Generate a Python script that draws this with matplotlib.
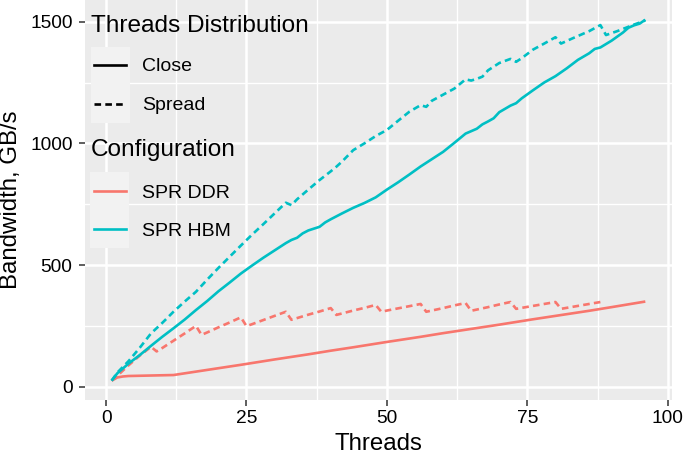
import matplotlib
matplotlib.use("Agg")
import matplotlib.pyplot as plt
from matplotlib.ticker import MultipleLocator
from matplotlib.patches import Rectangle
from matplotlib.lines import Line2D

plt.rcParams['font.family'] = ['Liberation Sans', 'DejaVu Sans']

# values (threads, GB/s)
hbm_close_t = [1, 2, 4, 6, 8, 10, 12, 14, 16, 18, 20, 22, 24, 26, 28, 30, 32, 33, 34, 35,
               36, 38, 39, 40, 42, 44, 46, 48, 50, 52, 54, 56, 58, 60, 62, 64, 65, 66, 67, 68,
               69, 70, 72, 73, 74, 76, 78, 80, 82, 84, 86, 87, 88, 90, 92, 93, 94, 95, 96]
hbm_close_bw = [25, 55, 95, 130, 168, 205, 240, 276, 315, 352, 392, 428, 465, 498, 530, 560, 590, 603, 612, 630,
                642, 657, 675, 688, 712, 735, 755, 778, 810, 840, 872, 905, 935, 965, 1002, 1040, 1050, 1060, 1078, 1090,
                1103, 1128, 1155, 1165, 1185, 1218, 1250, 1276, 1308, 1343, 1370, 1388, 1394, 1422, 1455, 1475, 1485, 1492, 1508]

hbm_spread_t = [1, 2, 4, 6, 8, 10, 12, 14, 16, 18, 20, 22, 24, 26, 28, 30, 32, 33, 34, 36,
                38, 40, 41, 42, 44, 46, 48, 50, 52, 54, 56, 57, 58, 60, 62, 64, 65, 66, 67, 68,
                70, 72, 73, 74, 76, 78, 80, 81, 83, 86, 88, 89, 91, 92, 94, 96]
hbm_spread_bw = [25, 58, 105, 160, 219, 262, 308, 350, 390, 440, 488, 534, 580, 625, 668, 712, 756, 746, 770, 810,
                 849, 885, 904, 925, 972, 1000, 1030, 1055, 1093, 1130, 1157, 1150, 1175, 1200, 1225, 1263, 1258, 1265, 1274, 1300,
                 1330, 1347, 1335, 1350, 1385, 1410, 1436, 1410, 1431, 1461, 1486, 1445, 1461, 1470, 1488, 1505]

ddr_close_t = [1, 2, 3, 4, 6, 8, 10, 12, 16, 20, 24, 30, 36, 40, 44, 50, 56, 60, 66, 70, 76, 80, 86, 90, 96]
ddr_close_bw = [25, 38, 42, 44, 45, 46, 47, 48, 62, 76, 90, 112, 133, 148, 162, 184, 205, 220, 241, 255, 277, 291, 312, 327, 350]

ddr_spread_t = [1, 2, 4, 6, 8, 9, 10, 12, 14, 16, 17, 18, 20, 22, 24, 25, 26, 28, 30, 32,
                33, 34, 36, 38, 40, 41, 42, 44, 46, 48, 49, 50, 52, 54, 56, 57, 58, 60, 62, 64,
                65, 66, 68, 70, 72, 73, 74, 76, 78, 80, 81, 82, 84, 86, 88]
ddr_spread_bw = [25, 45, 88, 128, 164, 145, 159, 189, 219, 250, 213, 223, 244, 264, 285, 249, 257, 274, 291, 308,
                 275, 282, 296, 309, 323, 295, 301, 313, 324, 336, 308, 313, 322, 331, 340, 308, 313, 323, 334, 344,
                 312, 317, 327, 338, 348, 320, 324, 332, 340, 348, 320, 324, 332, 340, 348]

red = '#F8766D'
cyan = '#00BFC4'
lw = 1.9
dash = (0, (2.5, 1.6))

W, H = 685, 455
fig = plt.figure(figsize=(W / 100, H / 100), dpi=100)
ax = fig.add_axes([85 / W, 55 / H, 587 / W, 400 / H])
ax.set_facecolor('#EBEBEB')

ax.plot(ddr_close_t, ddr_close_bw, color=red, lw=lw, solid_capstyle='butt')
ax.plot(ddr_spread_t, ddr_spread_bw, color=red, lw=lw, linestyle=dash)
ax.plot(hbm_close_t, hbm_close_bw, color=cyan, lw=lw, solid_capstyle='butt')
ax.plot(hbm_spread_t, hbm_spread_bw, color=cyan, lw=lw, linestyle=dash)

ax.set_xlim(-3.75, 100.75)
ax.set_ylim(-54.6, 1589)
ax.xaxis.set_major_locator(MultipleLocator(25))
ax.xaxis.set_minor_locator(MultipleLocator(12.5))
ax.yaxis.set_major_locator(MultipleLocator(500))
ax.yaxis.set_minor_locator(MultipleLocator(250))
ax.grid(which='major', color='white', lw=1.8)
ax.grid(which='minor', color='white', lw=1.0)
ax.set_axisbelow(True)
for s in ax.spines.values():
    s.set_visible(False)
ax.tick_params(which='major', length=4.5, width=1.1, color='#333333',
               labelsize=13.8, labelcolor='black', pad=3)
ax.tick_params(axis='y', which='major', pad=4.5)
ax.tick_params(which='minor', length=0)

fig.text(378.5 / W, 1 - 450.5 / H, 'Threads', fontsize=17.3, ha='center', va='baseline')
fig.text(11 / W, 1 - 200 / H, 'Bandwidth, GB/s', fontsize=17.3, rotation=90,
         ha='center', va='center')


# legend drawn by hand, ggplot style, positions in pixels
def fx(x):
    return x / W


def fy(y):
    return 1 - y / H


for (x0, x1, y0, y1) in [(91, 130, 47, 123), (90, 129, 172, 248)]:
    fig.add_artist(Rectangle((fx(x0), fy(y1)), (x1 - x0) / W, (y1 - y0) / H,
                             transform=fig.transFigure, facecolor='#F2F2F2', edgecolor='none'))

keys = [(65, 'black', '-', 'Close'), (104, 'black', dash, 'Spread'),
        (191, red, '-', 'SPR DDR'), (229, cyan, '-', 'SPR HBM')]
for y, c, ls, lab in keys:
    fig.add_artist(Line2D([fx(94), fx(126)], [fy(y), fy(y)], transform=fig.transFigure,
                          color=c, lw=lw, linestyle=ls))
    fig.text(fx(142), fy(y), lab, fontsize=14, ha='left', va='center_baseline')

fig.text(fx(91.5), fy(31.5), 'Threads Distribution', fontsize=17.6, ha='left', va='baseline')
fig.text(fx(90.5), fy(156), 'Configuration', fontsize=17.6, ha='left', va='baseline')

fig.savefig('out.png', dpi=100)
